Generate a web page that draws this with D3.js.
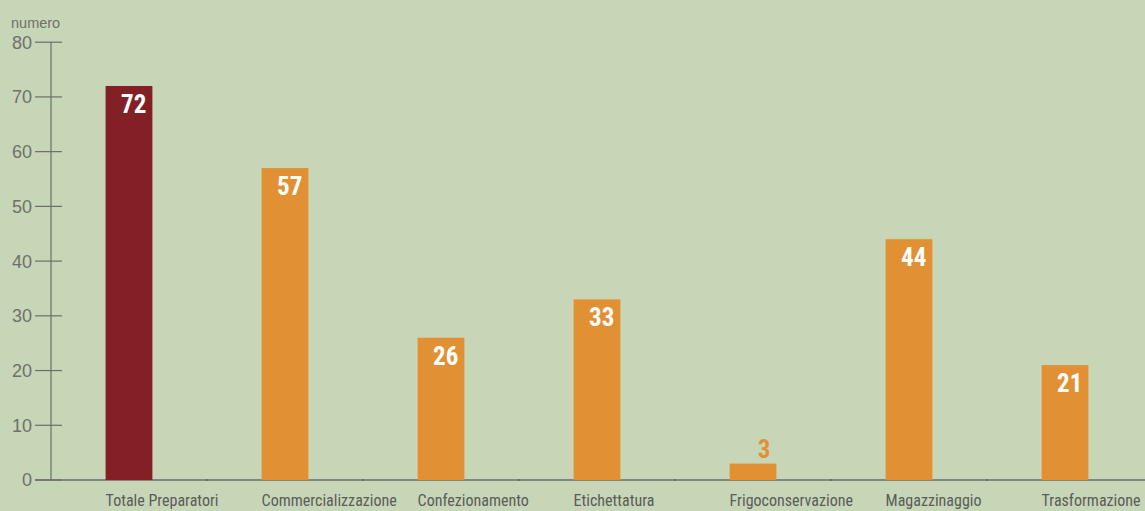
<!DOCTYPE html>
<html><head><meta charset="utf-8">
<script src="https://cdn.jsdelivr.net/npm/d3@7"></script>
<style>
html,body{margin:0;padding:0;background:#c8d6b8;}
svg{display:block;}
</style></head>
<body><svg id="c" width="1145" height="511"></svg>
<script>
const categories = ["Totale Preparatori","Commercializzazione","Confezionamento","Etichettatura","Frigoconservazione","Magazzinaggio","Trasformazione"];
const values = [72,57,26,33,3,44,21];
const yTicks = [0,10,20,30,40,50,60,70,80];
const yTitle = "numero";

const svg = d3.select("#c");
const W = 1145, H = 511;
const x0 = 51, x1 = 1143, yTop = 42.2, yBot = 480;
const font = '"Liberation Sans Narrow","Roboto Condensed","Liberation Sans",sans-serif';
const axisCol = "#6b6e68", textCol = "#5a5c58";

const x = d3.scaleBand().domain(categories).range([x0, x1]).paddingInner(0.7).paddingOuter(0.35);
const y = d3.scaleLinear().domain([0, 80]).range([yBot, yTop]);

// baseline
svg.append("line").attr("x1", 35).attr("x2", W).attr("y1", y(0)).attr("y2", y(0))
  .attr("stroke", axisCol).attr("stroke-width", 1.3);
// band boundary ticks
const step = x.step();
categories.slice(1).forEach(c => {
  const bx = x(c) - (step - x.bandwidth())/2;
  svg.append("line").attr("x1", bx).attr("x2", bx).attr("y1", y(0)-1).attr("y2", y(0)+1)
    .attr("stroke", "#555").attr("stroke-width", 1);
});
// y axis
svg.append("line").attr("x1", x0).attr("x2", x0).attr("y1", y(80)).attr("y2", y(0))
  .attr("stroke", axisCol).attr("stroke-width", 1.2);
const yt = svg.append("g");
yTicks.forEach(t => {
  yt.append("line").attr("x1", 35).attr("x2", 62).attr("y1", y(t)).attr("y2", y(t))
    .attr("stroke", axisCol).attr("stroke-width", 1.2);
  yt.append("text").attr("x", 32).attr("y", y(t)).attr("dy", "0.36em")
    .attr("text-anchor", "end").attr("font-family", '"Liberation Sans","Arimo",sans-serif')
    .attr("font-size", 18).attr("fill", "#6e706b").text(t);
});
svg.append("text").attr("x", 11).attr("y", 28).attr("font-family", '"Liberation Sans","Arimo",sans-serif')
  .attr("font-size", 14.5).attr("fill", "#6e706b").text(yTitle);

// bars
const colors = categories.map((c, i) => i === 0 ? "#832026" : "#e19133");
svg.selectAll("rect.bar").data(values).enter().append("rect")
  .attr("x", (d, i) => x(categories[i])).attr("width", x.bandwidth())
  .attr("y", d => y(d)).attr("height", d => y(0) - y(d))
  .attr("fill", (d, i) => colors[i]);

// value labels
svg.selectAll("text.val").data(values).enter().append("text")
  .attr("x", (d, i) => x(categories[i]) + x.bandwidth() - 6)
  .attr("y", d => d < 8 ? y(d) - 6 : y(d) + 27)
  .attr("text-anchor", "end").attr("font-family", font).attr("font-weight", "bold")
  .attr("font-size", 25).attr("fill", (d, i) => d < 8 ? colors[i] : "#ffffff")
  .text(d => d);

// category labels
svg.selectAll("text.cat").data(categories).enter().append("text")
  .attr("x", c => x(c)).attr("y", 506).attr("font-family", font)
  .attr("font-size", 16).attr("fill", textCol).text(c => c);
</script></body></html>
